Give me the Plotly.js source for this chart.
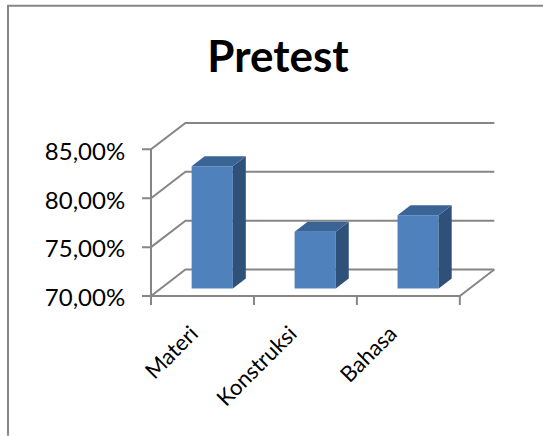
<!DOCTYPE html>
<html><head><meta charset="utf-8">
<script src="https://cdn.plot.ly/plotly-3.0.1.min.js"></script>
<style>html,body{margin:0;padding:0;background:#fff;overflow:hidden}#c{width:543px;height:436px}</style>
</head><body><div id="c"></div>
<script>
const categories = ["Materi","Konstruksi","Bahasa"];
const values = [82.5,75.8,77.5];
const yTicks = [70,75,80,85];
const yTickLabels = ["70,00%","75,00%","80,00%","85,00%"];
const xTicks = [0,1,2,3];
const labelPos = [0.395,1.355,2.325];
const yLabelPos = [69.8,74.8,79.8,84.8];

// oblique projection of the depth axis, in data units
const depthX = 0.335, depthY = 2.704;
const barStart = 0.283, barDepth = 0.377, barWidth = 0.4;
const gridColor = "#868686", front = "#4F81BD", side = "#2F5179", top_ = "#3A6496";

const lineShape = (pts,w) => ({type:"path",xref:"x",yref:"y",layer:"below",
  path:pts.map((p,i)=>(i?"L":"M")+p[0]+" "+p[1]).join(" "),
  line:{color:gridColor,width:w||2}});
const shapes = [];
yTicks.forEach(v=>{
  shapes.push(lineShape([[-0.0874,v],[0,v],[depthX,v+depthY],[3+depthX,v+depthY]]));
});
shapes.push(lineShape([[0,70],[0,85]]));
shapes.push(lineShape([[0,70],[3,70],[3+depthX,70+depthY]]));
xTicks.forEach(t=>shapes.push(lineShape([[t,70],[t,69.08]])));

// chart frame at the left and top of the picture
const W=359,H=183.44,L=142,T=121.56;
shapes.push({type:"path",xref:"paper",yref:"paper",layer:"below",
  path:`M ${(8-L)/W} ${1-(436-T)/H} L ${(8-L)/W} ${1-(5-T)/H} L ${(543-L)/W} ${1-(5-T)/H}`,
  line:{color:"#868686",width:2}});

const centers = categories.map((c,i)=>i+0.5+barStart*depthX);
const bases = categories.map(()=>70+barStart*depthY);
const traces = [{
  type:"bar",x:centers,y:values.map(v=>v-70),base:bases,width:barWidth,
  marker:{color:front,line:{width:0}},hoverinfo:"skip",showlegend:false
}];
values.forEach((v,i)=>{
  const x0=centers[i]-barWidth/2,x1=centers[i]+barWidth/2;
  const b=bases[i],t=v+barStart*depthY;
  const dx=barDepth*depthX,dy=barDepth*depthY;
  traces.push({type:"scatter",mode:"lines",fill:"toself",fillcolor:side,line:{width:0,color:side},
    x:[x1,x1,x1+dx,x1+dx,x1],y:[b,t,t+dy,b+dy,b],hoverinfo:"skip",showlegend:false});
  traces.push({type:"scatter",mode:"lines",fill:"toself",fillcolor:top_,line:{width:0,color:top_},
    x:[x0,x1,x1+dx,x0+dx,x0],y:[t,t,t+dy,t+dy,t],hoverinfo:"skip",showlegend:false});
});

const layout = {
  width:543,height:436,autosize:false,
  paper_bgcolor:"#fff",plot_bgcolor:"rgba(0,0,0,0)",showlegend:false,
  margin:{l:L,r:543-L-W,t:T,b:436-T-H,pad:0},
  title:{text:"Pretest",x:278/543,xanchor:"center",xref:"container",y:1-57/436,yanchor:"middle",yref:"container",
    font:{family:"Lato, Carlito, sans-serif",size:44,color:"#000",weight:700}},
  xaxis:{range:[-0.0874,3.4],tickmode:"array",tickvals:labelPos,ticktext:categories,tickangle:-45,
    showgrid:false,zeroline:false,showline:false,ticks:"outside",ticklen:6,tickcolor:"rgba(0,0,0,0)",
    tickfont:{family:"Lato, Carlito, sans-serif",size:22,color:"#000"}},
  yaxis:{range:[69.08,87.8],tickmode:"array",tickvals:yLabelPos,ticktext:yTickLabels,
    showgrid:false,zeroline:false,showline:false,ticks:"outside",ticklen:11,tickcolor:"rgba(0,0,0,0)",
    tickfont:{family:"Lato, Carlito, sans-serif",size:24,color:"#000"}},
  shapes:shapes
};
Plotly.newPlot("c",traces,layout,{displayModeBar:false,staticPlot:true});
</script></body></html>
